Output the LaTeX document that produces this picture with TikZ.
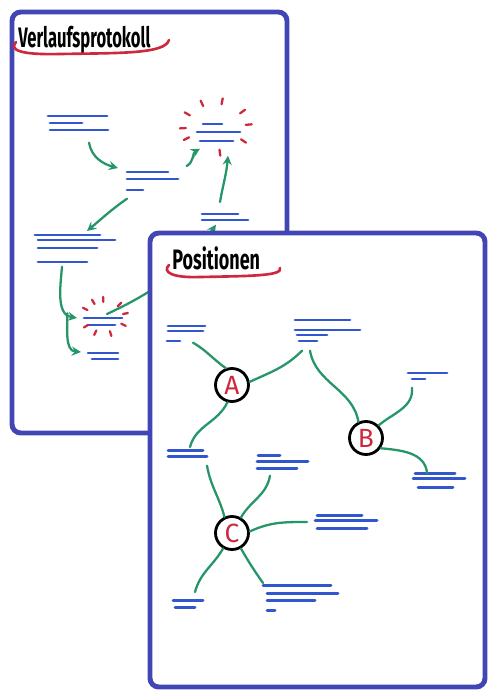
\documentclass[tikz,border=0pt]{standalone}
\usepackage{fontspec}
\setsansfont{Fira Sans}
\usetikzlibrary{calc}

\definecolor{penblue}{RGB}{66,70,180}
\definecolor{lineblue}{RGB}{50,86,205}
\definecolor{pengreen}{RGB}{38,150,105}
\definecolor{penred}{RGB}{205,40,62}

% text placeholder: name, top left, width, height, lines x0/y/x1
\newcommand{\txtgrp}[5]{%
  \node[grp,minimum width=#3*0.02cm,minimum height=#4*0.02cm] (#1) at (#2) {};
  \foreach \a/\b/\c in {#5}
    \draw[bline] ([shift={(\a,-\b)}]#1.north west) -- ([shift={(\c,-\b)}]#1.north west);
}

\begin{document}
\begin{tikzpicture}[x=0.02cm,y=0.02cm,>=stealth,
    frame/.style={draw=penblue,line width=2.8pt,rounded corners=5pt},
    bline/.style={draw=lineblue,line width=1.7pt,line cap=round},
    grp/.style={inner sep=0pt,anchor=north west},
    link/.style={draw=pengreen,line width=1.3pt,line cap=round},
    arr/.style={link,->},
    burst/.style={draw=penred,line width=1.3pt,line cap=round},
    swoosh/.style={draw=penred,line width=1.5pt,line cap=round},
    title/.style={anchor=base west,inner sep=0pt,font=\sffamily\bfseries\fontsize{16}{16}\selectfont},
    posn/.style={circle,draw=black,line width=1.6pt,minimum size=0.66cm,inner sep=0pt,
      text=penred,font=\sffamily\fontsize{15}{15}\selectfont}]
  \useasboundingbox (0,0) rectangle (499,-700);

  % Verlaufsprotokoll
  \draw[frame] (12,-12) rectangle (287,-433);
  \node[title] (t1) at (18,-47) {\scalebox{0.59}[1]{Verlaufsprotokoll}};
  \draw[swoosh] (16,-42) .. controls (9,-50) and (20,-55) .. (60,-54)
    .. controls (120,-53) and (165,-54) .. (169,-40);

  \txtgrp{v1}{48,-116}{60}{14}{0/0/59, 2/7/34, 2/14/60}
  \txtgrp{v2}{127,-172}{51}{18}{0/0/41, 0/7/51, 0/18/16}
  \txtgrp{v3}{197,-124}{43}{17}{6/0/25, 0/8/43, 3/17/36}
  \txtgrp{v4}{202,-214}{46}{6}{0/0/36, 0/6/46}
  \txtgrp{v5}{35,-235}{80}{27}{0/0/65, 3/5/80, 3/13/62, 3/27/52}
  \txtgrp{v6}{84,-318}{38}{7}{0/0/38, 4/7/31}
  \txtgrp{v7}{88,-353}{30}{6}{0/0/30, 4/6/30}

  \coordinate (glow1) at ([shift={(-3,6)}]v3.center);
  \coordinate (glow2) at ([shift={(1,5)}]v6.center);
  \foreach \t in {150,115,79,36,5,-33,-83,-153,-177}
    \draw[burst] ($(glow1)+(\t:30 and 23)$) -- ($(glow1)+(\t:36 and 29)$);
  \foreach \t in {153,121,93,45,11,-27,-73,-115,-148}
    \draw[burst] ($(glow2)+(\t:19 and 15)$) -- ($(glow2)+(\t:24 and 20)$);

  \draw[arr] ([shift={(41,-12)}]v1.south west) to[out=-80,in=165] ([shift={(-9,4)}]v2.north west);
  \draw[arr] ([shift={(8,6)}]v2.north east) to[out=30,in=-150] ([shift={(3,-7)}]v3.south west);
  \draw[arr] ([shift={(18,12)}]v4.north west) to[out=80,in=-95] ([shift={(31,-14)}]v3.south west);
  \draw[arr] ([shift={(0,-8)}]v2.south west) to[out=-145,in=40] ([shift={(52,4)}]v5.north west);
  \draw[arr] ([shift={(27,-4)}]v5.south west) to[out=-95,in=170] coordinate[pos=0.8] (fork)
    ([shift={(-7,0)}]v6.north west);
  \draw[arr] (fork) to[out=-90,in=175] ([shift={(-7,1)}]v7.north west);
  \draw[arr] ([shift={(23,4)}]v6.north west) to[out=25,in=-125] ([shift={(14,-4)}]v4.south west);

  % Positionen
  \draw[frame,fill=white] (150,-233) rectangle (485,-687);
  \node[title] (t2) at (172,-269) {\scalebox{0.64}[1]{Positionen}};
  \draw[swoosh] (169,-265) .. controls (162,-272) and (172,-278) .. (200,-277)
    .. controls (250,-276) and (283,-276) .. (280,-268);

  \txtgrp{p1}{167,-326}{38}{15}{1/0/38, 1/5/36, 0/15/13}
  \txtgrp{p2}{295,-320}{65}{21}{0/0/55, 0/10/65, 2/15/32, 4/21/22}
  \txtgrp{p3}{408,-373}{39}{6}{0/0/39, 4/6/17}
  \txtgrp{p4}{413,-473}{52}{14}{2/0/42, 0/5/52, 5/14/40}
  \txtgrp{p5}{168,-450}{39}{6}{0/0/35, 0/6/39}
  \txtgrp{p6}{257,-455}{51}{13}{1/0/23, 0/6/51, 0/13/40}
  \txtgrp{p7}{315,-515}{62}{13}{2/0/47, 0/5/62, 2/13/52}
  \txtgrp{p8}{173,-600}{30}{7}{0/0/30, 2/7/22}
  \txtgrp{p9}{263,-585}{75}{25}{0/0/68, 4/8/75, 4/15/52, 4/25/12}

  \node[posn] (A) at (232,-385) {A};
  \node[posn] (B) at (366,-438) {B};
  \node[posn] (C) at (232,-533) {C};

  \draw[link] ([shift={(26,-1)}]p1.south west) to[out=-30,in=145] (A.110);
  \draw[link] (A.10) to[out=25,in=-135] ([shift={(7,-9)}]p2.south west);
  \draw[link] ([shift={(15,-9)}]p2.south west) to[out=-80,in=100] (B.115);
  \draw[link] (B.45) to[out=40,in=-85] ([shift={(4,-8)}]p3.south west);
  \draw[link] (B.-35) to[out=-5,in=95] ([shift={(14,0)}]p4.north west);
  \draw[link] (A.-105) to[out=-115,in=75] ([shift={(22,3)}]p5.north west);
  \draw[link] ([shift={(39,-9)}]p5.south west) to[out=-80,in=105] (C.115);
  \draw[link] (C.60) to[out=60,in=-100] ([shift={(13,-7)}]p6.south west);
  \draw[link] (C.5) to[out=25,in=180] ([shift={(-8,-7)}]p7.north west);
  \draw[link] (C.-120) to[out=-120,in=75] ([shift={(22,8)}]p8.north west);
  \draw[link] (C.-60) to[out=-60,in=125] ([shift={(0,2)}]p9.north west);
\end{tikzpicture}
\end{document}
